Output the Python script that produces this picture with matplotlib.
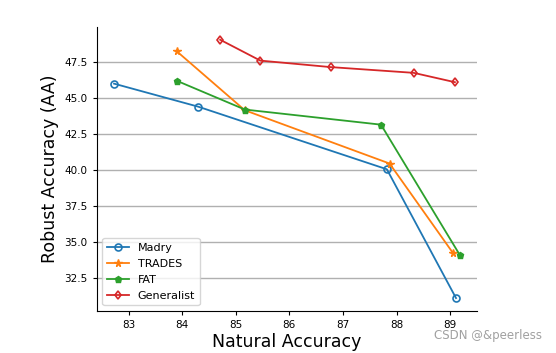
import matplotlib
matplotlib.use("Agg")
import matplotlib.pyplot as plt

# natural / robust accuracy
madry_nat = [82.73, 84.30, 87.82, 89.11]
madry_rob = [46.0, 44.4, 40.05, 31.1]
trades_nat = [83.90, 85.17, 87.87, 89.05]
trades_rob = [48.25, 44.15, 40.45, 34.25]
fat_nat = [83.90, 85.17, 87.71, 89.18]
fat_rob = [46.2, 44.2, 43.15, 34.1]
gen_nat = [84.71, 85.46, 86.77, 88.32, 89.09]
gen_rob = [49.05, 47.6, 47.15, 46.75, 46.1]

fig = plt.figure(figsize=(5.56, 3.53), dpi=100)
ax = fig.add_axes([0.174, 0.119, 0.684, 0.805])

lw = 1.3
ax.plot(madry_nat, madry_rob, marker="o", mfc="none", mew=1.2, ms=5, lw=lw, label="Madry")
ax.plot(trades_nat, trades_rob, marker="*", ms=5.5, lw=lw, label="TRADES")
ax.plot(fat_nat, fat_rob, marker="p", ms=5, lw=lw, label="FAT")
ax.plot(gen_nat, gen_rob, marker="d", mfc="none", mew=1.2, ms=4.5, lw=lw, label="Generalist")

ax.set_xticks([83, 84, 85, 86, 87, 88, 89])
ax.set_yticks([32.5, 35.0, 37.5, 40.0, 42.5, 45.0, 47.5])
ax.yaxis.grid(True, color="#b0b0b0", lw=1.0)
ax.set_axisbelow(True)
ax.spines["top"].set_visible(False)
ax.spines["right"].set_visible(False)
ax.tick_params(labelsize=7.5, length=3, width=0.8)
ax.set_xlabel("Natural Accuracy", fontsize=12.5, labelpad=2)
ax.set_ylabel("Robust Accuracy (AA)", fontsize=12.5, labelpad=4)
ax.legend(loc="lower left", fontsize=8.0, handlelength=2, borderpad=0.4, labelspacing=0.55)

fig.text(0.975, 0.03, "CSDN @&peerless", ha="right", va="bottom", fontsize=8.5, color="#a0a0a0")

fig.savefig("out.png", dpi=100)
